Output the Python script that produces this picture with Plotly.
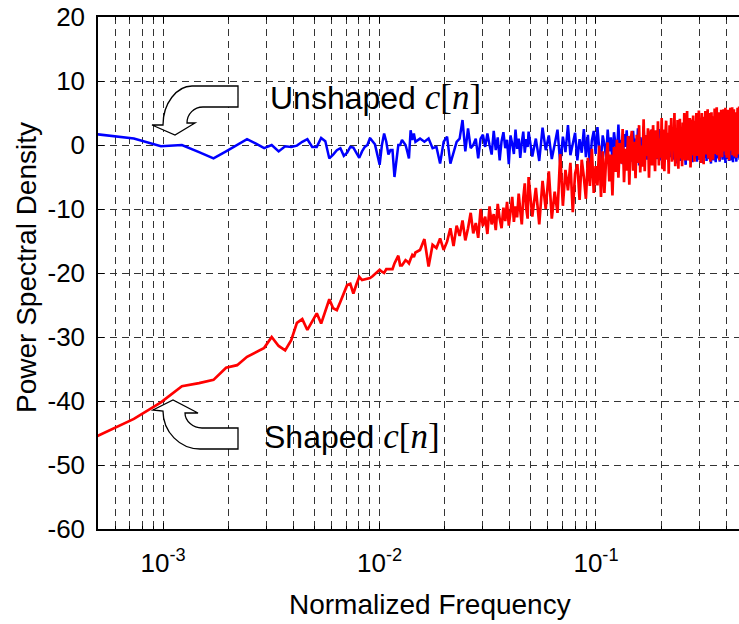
import math
import plotly.graph_objects as go

# ---------------- data ----------------
N_FFT = 4096          # frequency bin k -> normalized frequency k / N_FFT
LO_START = 2          # bins 2, 3, 4, ...
MID_START, MID_STEP = 63, 3
HI_START, HI_STEP = 200, 8

# Unshaped c[n] (blue), dB
unshaped_lo = [1.7, 1.0, -0.2, 0.0, -1.1, -2.1, -1.0, 0.0, 0.9, 0.2,
               -0.5, 0.0, -1.0, -0.2, -0.3, -0.1, 0.5, 0.9, -0.3, -0.3,
               1.1, 0.6, -2.1, -1.5, -0.8, -0.5, -1.7, -1.2, -0.3, -0.4,
               -1.2, -2.0, -1.0, -0.3, 0.0, 1.1, 0.6, 0.1, -1.5, -3.1,
               0.0, 1.8, 0.5, -1.5, -0.8, -0.8, -5.0, -2.0, 0.0, 0.0,
               0.8, 0.4, 0.0, -1.0, -2.1, 2.3, 0.8, 1.8, 0.5]
unshaped_mid = [1.0, 0.5, 1.0, -0.5, -0.3, -2.9, 0.5, 1.3, -2.9, -1.0,
                0.5, 1.0, 3.9, -1.0, 2.6, -0.5, 0.0, 1.0, -2.1, 1.0,
                1.6, -0.3, 1.8, 0.0, -1.5, 2.2, -0.8, 1.2, -2.4, 0.6,
                2.0, -0.5, 0.8, -3.0, 1.5, 0.2, -1.4, 2.4, -0.6, 1.0,
                -2.0, 0.4, 2.1, -1.2, 0.9, -0.3]
unshaped_hi = [2.1, -1.8, 1.0, -2.5, 2.7, -0.8, 1.5, -2.2, 0.5, 2.4,
               -2.9, 1.3, -1.1, 3.1, -1.6, 0.2, 1.9, -2.4, 0.9, -1.2,
               2.5, -1.9, 1.6, -3.4, 0.7, 2.2, -1.4, 2.8, -0.5, -2.3,
               1.5, 0.1, -1.9, 2.4, -1.0, 1.2, -2.7, 2.0, 0.3, -1.5,
               3.2, -1.3, 0.8, -3.0, 1.7, -0.3, 2.3, -2.1, 0.6, 1.4,
               -2.6, 2.2, -0.8, 1.0, -1.8, 2.6, -3.2, 1.2, 0.4, -1.4,
               2.9, -1.1, 1.5, -2.3, 0.7, 2.1, -1.9, 0.0, 2.4, -2.8,
               1.3, -0.6, 1.8, -2.2, 0.9, 2.5,
               -2.4, 0.9, -1.6, 1.2, -2.8, -0.3, 1.5, -2.1, 0.4, -1.2,
               -2.6, 1.0, -0.8, -1.9, 1.4, -2.3, 0.2, -1.4, 0.8, -2.9,
               -0.5, 1.1, -1.8, -0.1, -2.5, 0.6, -1.1, 1.3, -2.2, -0.7,
               0.5, -1.7, -3.1, 0.9, -0.4, -2.0, 1.2, -1.3, -2.4, 0.3,
               -0.9, 1.0, -2.7, -0.2, -1.5, 0.7, -2.1, 1.4, -1.0, -2.6,
               0.1, -1.6, 0.8, -2.3, -0.6, 1.1, -1.9, -0.3, -2.8, 0.5,
               -1.2, 1.3, -2.0, -0.8, 0.4, -2.5, -1.1, 0.9, -1.7, 0.0,
               -2.2, 1.0, -1.4, -2.9, 0.6, -0.7, -1.8, 1.2, -2.4, -0.4,
               0.3, -1.5, -2.7, 0.8, -1.0, 1.1, -2.1, -0.5, -1.6, 0.7,
               -2.6, -0.2, 1.3, -1.9, -1.1, 0.2, -2.3, 0.9, -0.9, -2.0,
               1.0, -1.3, -2.8, 0.4, -0.6, -1.7, 1.2, -2.2, 0.1, -1.4,
               -2.5, 0.8, -0.8, -1.9, 1.1, -2.4, -0.3, 0.6, -1.6, -2.7,
               0.5, -1.0, 1.3, -2.1, -0.7, 0.0, -1.8, -2.6, 0.9, -1.2,
               1.0, -2.0, -0.5, -1.5, 0.3, -2.3, 0.7, -1.1, -2.5, 0.4,
               -0.9, 1.2, -2.0, -1.4, 0.6]

# Shaped c[n] (red), dB
shaped_lo = [-45.6, -42.8, -40.2, -37.7, -37.2, -36.7, -34.8, -34.4, -33.1, -32.4,
             -31.7, -30.0, -31.4, -32.1, -30.5, -27.8, -27.2, -28.9, -27.6, -26.3,
             -27.9, -26.0, -24.1, -25.5, -25.8, -24.5, -23.0, -21.9, -21.7, -23.2,
             -21.8, -20.6, -21.1, -21.0, -21.0, -20.8, -20.5, -20.2, -19.8, -19.5,
             -19.8, -20.0, -19.4, -19.4, -19.4, -19.4, -18.5, -18.0, -17.3, -18.8,
             -18.8, -18.4, -18.0, -18.2, -18.5, -17.8, -17.2, -17.5, -16.8]
shaped_mid = [-16.4, -14.7, -19.0, -15.6, -16.1, -14.6, -16.4, -15.1, -13.0, -15.8,
              -12.6, -14.2, -11.8, -14.9, -13.0, -10.6, -13.8, -12.2, -14.5, -10.0,
              -12.7, -11.2, -13.9, -9.6, -12.4, -10.8, -13.3, -9.2, -11.5, -13.0,
              -9.8, -11.9, -8.9, -12.6, -10.4, -8.1, -12.0, -9.6, -11.3, -7.6,
              -10.2, -12.4, -8.3, -6.0, -9.9, -11.5]
shaped_hi = [-5.0, -11.2, -6.7, -12.4, -5.6, -10.0, -4.1, -11.5, -7.3, -10.6,
             -1.4, -9.5, -3.9, -7.1, -2.8, -10.5, -4.5, -3.0, -8.6, -2.3,
             -5.0, -8.4, -2.0, -6.4, -0.6, -7.5, -3.3, -6.3, -0.1, -8.1,
             -1.0, -7.5, -2.3, 0.4, -5.7, -1.5, -7.9, -0.3, -4.2, 0.8,
             -5.1, 0.3, -2.9, 2.5, -5.8, -0.6, -4.0, 1.4, -6.2, 0.6,
             2.2, -4.0, 0.5, -5.2, 1.6, -2.8, 3.1, -4.3, -0.1, -3.4,
             4.0, -4.1, 1.5, -1.7, 2.6, -5.1, 0.9, 2.4, -3.2, 3.1,
             -0.7, -4.1, 2.3, -2.1, 3.7, -3.2, 1.0, -2.0, 4.2, -3.8,
             2.4, -4.1, 1.1, 3.8, -2.3, 1.9, -4.5, 3.1, -0.8, 4.2,
             -2.6, 2.8, -0.4, 5.0, -3.3, 1.9, -1.5, 3.9, -3.7, 3.1,
             4.1, -2.1, 2.4, -3.3, 3.5, -0.9, 5.0, -2.4, 1.8, -1.5,
             5.3, -2.4, 3.2, -0.1, 4.2, -3.5, 2.5, 4.0, -1.6, 4.6,
             0.8, -2.6, 3.8, -0.6, 5.0, -1.7, 2.5, -0.5, 5.4, -2.3,
             3.7, -2.8, 2.4, 5.0, -1.0, 3.2, -3.0, 4.4, 0.5, 5.3,
             -1.5, 4.0, 0.8, 5.6, -2.1, 3.1, -0.3, 5.0, -2.6, 4.2,
             5.1, -1.1, 3.4, -2.3, 4.5, 0.1, 5.7, -1.4, 2.8, -0.5,
             5.9, -1.6, 4.0, 0.8, 5.1, -2.4, 3.4, 4.9, -0.7, 5.5,
             1.5, -1.9, 4.5, 0.1, 5.6, -1.0, 3.2, 0.2, 5.8, -1.6,
             4.3, -2.0, 3.0, 5.5, -0.4, 3.8, -2.4, 5.0, 1.1, 5.8,
             -0.9, 4.5, 1.3, 5.9, -1.6, 3.6, 0.2, 5.6, -1.8, 4.8,
             5.1, -1.1, 3.4, -2.0, 4.5, 0.1, 5.8, -1.4, 2.8, -0.5,
             6.0, -1.5, 3.9, 0.7, 5.0, -2.2, 3.3, 4.8, -0.8, 5.5]

y_tick_vals = [-60, -50, -40, -30, -20, -10, 0, 10, 20]
y_tick_text = ["-60", "-50", "-40", "-30", "-20", "-10", "0", "10", "20"]
x_tick_vals = [1e-3, 1e-2, 1e-1]
x_tick_text = ["10<sup>-3</sup>", "10<sup>-2</sup>", "10<sup>-1</sup>"]
x_min, x_max = 5e-4, 0.458
y_min, y_max = -60, 20


def freqs(lo, mid, hi):
    b = [LO_START + i for i in range(len(lo))]
    b += [MID_START + MID_STEP * i for i in range(len(mid))]
    b += [HI_START + HI_STEP * i for i in range(len(hi))]
    return [k / N_FFT for k in b]


x_unshaped = freqs(unshaped_lo, unshaped_mid, unshaped_hi)
y_unshaped = unshaped_lo + unshaped_mid + unshaped_hi
x_shaped = freqs(shaped_lo, shaped_mid, shaped_hi)
y_shaped = shaped_lo + shaped_mid + shaped_hi

minor_vals = [m * 10.0 ** e for e in range(-4, 0) for m in range(2, 10)
              if x_min <= m * 10.0 ** e <= x_max]

# ---------------- figure ----------------
W, H = 739, 624
ML, MR, MT, MB = 98, 0, 17, 95
PW, PH = W - ML - MR, H - MT - MB

FONT = "Liberation Sans, Arial, sans-serif"
GRID = "#333333"
DASH = "7px,5px"

fig = go.Figure()
fig.add_trace(go.Scatter(x=x_unshaped, y=y_unshaped, mode="lines",
                         line=dict(color="#0000FF", width=2.5), showlegend=False))
fig.add_trace(go.Scatter(x=x_shaped, y=y_shaped, mode="lines",
                         line=dict(color="#FF0000", width=2.7), showlegend=False))


def px(x, y):
    return (x - ML) / PW, (H - MB - y) / PH


def path(cmds):
    out = []
    for c in cmds:
        if isinstance(c, str):
            out.append(c)
        else:
            a, b = px(*c)
            out.append(f"{a:.5f},{b:.5f}")
    return " ".join(out)


arrow_up = path(["M", (238, 86), "L", (192, 86),
                 "C", (177, 86), (163, 103), (163, 125),
                 "L", (152, 125), "L", (175, 135), "L", (195, 123), "L", (187, 123),
                 "C", (187, 114), (194, 107), (203, 107),
                 "L", (238, 107), "Z"])
arrow_dn = path(["M", (238, 428), "L", (202, 428),
                 "C", (193, 428), (185, 421), (185, 413),
                 "L", (198, 413), "L", (173, 400), "L", (153, 410), "L", (163, 411),
                 "C", (163, 432), (180, 449), (200, 449),
                 "L", (238, 449), "Z"])
for p in (arrow_up, arrow_dn):
    fig.add_shape(type="path", path=p, xref="paper", yref="paper",
                  line=dict(color="black", width=1.3), fillcolor="white", layer="above")

SERIF = "font-family:Liberation Serif, Times New Roman, serif;font-size:35px"
cn = f'<span style="{SERIF}"><i>c</i>[<i>n</i>]</span>'
ux, uy = px(268, 97)
sx, sy = px(262, 436)
fig.add_annotation(x=ux, y=uy, xref="paper", yref="paper", xanchor="left", yanchor="middle",
                   text="Unshaped " + cn, showarrow=False,
                   font=dict(family=FONT, size=32, color="black"))
fig.add_annotation(x=sx, y=sy, xref="paper", yref="paper", xanchor="left", yanchor="middle",
                   text="Shaped " + cn, showarrow=False,
                   font=dict(family=FONT, size=32, color="black"))

tx, ty = px(430, 604)
fig.add_annotation(x=tx, y=ty, xref="paper", yref="paper", xanchor="center", yanchor="middle",
                   text="Normalized Frequency", showarrow=False,
                   font=dict(family=FONT, size=28, color="black"))
vx, vy = px(26, 268)
fig.add_annotation(x=vx, y=vy, xref="paper", yref="paper", xanchor="center", yanchor="middle",
                   text="Power Spectral Density", textangle=-90, showarrow=False,
                   font=dict(family=FONT, size=28, color="black"))

fig.update_layout(
    width=W, height=H,
    margin=dict(l=ML, r=MR, t=MT, b=MB, pad=0),
    paper_bgcolor="white", plot_bgcolor="white",
    font=dict(family=FONT, size=26, color="black"),
    showlegend=False,
    hovermode=False,
)
fig.update_xaxes(
    type="log", range=[math.log10(x_min), math.log10(x_max)],
    tickmode="array", tickvals=x_tick_vals, ticktext=x_tick_text,
    ticks="inside", ticklen=6, tickwidth=1, tickcolor="black",
    showline=True, linecolor="black", linewidth=1.5, mirror="ticks",
    showgrid=True, gridcolor=GRID, gridwidth=1, griddash=DASH,
    tickfont=dict(family=FONT, size=26, color="black"),
    ticklabelstandoff=10,
    minor=dict(tickvals=minor_vals, ticks="inside", ticklen=3, tickcolor="black",
               showgrid=True, gridcolor=GRID, gridwidth=1, griddash=DASH),
    zeroline=False,
)
fig.update_yaxes(
    range=[y_min, y_max],
    tickmode="array", tickvals=y_tick_vals, ticktext=y_tick_text,
    ticks="inside", ticklen=6, tickwidth=1, tickcolor="black",
    showline=True, linecolor="black", linewidth=1.5, mirror=False,
    showgrid=True, gridcolor=GRID, gridwidth=1, griddash=DASH,
    tickfont=dict(family=FONT, size=26, color="black"),
    ticklabelstandoff=6,
    zeroline=False,
)

fig.write_html("out.html", config={"displayModeBar": False},
               post_script="document.body.style.margin='0px';")
